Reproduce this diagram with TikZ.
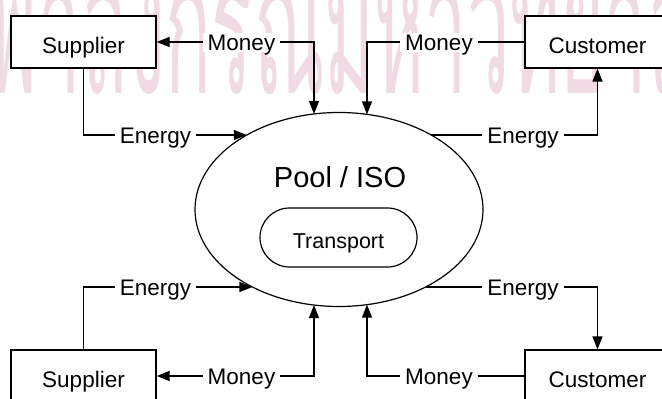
\documentclass[tikz,border=0pt]{standalone}
\usepackage{fontspec}
\setmainfont{Liberation Sans}
\newfontfamily\thaifont[Script=Thai]{Loma}
\usetikzlibrary{arrows.meta,shapes.geometric,shapes.misc}
\definecolor{wmark}{RGB}{240,219,229}
\tikzset{
  lw/.style={line width=1.2pt},
  tip/.style={-{Triangle[length=13pt,width=10pt]}},
  tips/.style={{Triangle[length=13pt,width=10pt]}-{Triangle[length=13pt,width=10pt]}},
  party/.style={draw, lw, fill=white, minimum width=145pt, minimum height=52pt,
    inner sep=0pt, text height=22pt, text depth=0pt,
    font=\fontsize{22.5}{27}\selectfont},
  flowlabel/.style={fill=white, inner xsep=5pt, inner ysep=1pt,
    text height=17pt, text depth=0pt, font=\fontsize{22.5}{27}\selectfont},
  wmtext/.style={inner sep=0pt, text=wmark, xscale=0.4, transform shape,
    font=\thaifont\fontsize{190}{190}\selectfont},
}
\begin{document}
\begin{tikzpicture}[x=1pt,y=-1pt]
\useasboundingbox (0,0) rectangle (662,399);
\clip (0,0) rectangle (662,399);
\fill[white] (0,0) rectangle (662,399);

% faint background watermark
\node[wmtext, anchor=base east] (wmA) at (252,93) {จุฬาลงกร};
\node[wmtext, anchor=base west] (wmB) at (254,93) {ณ์มหาวิทยาลัย};

% market parties
\node[party] (sup1) at (83.5,42) {Supplier};
\node[party] (cus1) at (597.5,42) {Customer};
\node[party] (sup2) at (83.5,376) {Supplier};
\node[party] (cus2) at (597.5,376) {Customer};

% pool and transport
\node[draw, lw, ellipse, minimum width=288pt, minimum height=194pt, inner sep=0pt]
  (pool) at (339,209.5) {};
\node[font=\fontsize{29}{33}\selectfont, inner sep=0pt, text height=20.8pt,
  text depth=0pt] (iso) at (340,177) {Pool / ISO};
\node[draw, lw, rounded rectangle, minimum width=157pt, minimum height=59pt,
  inner sep=0pt, text height=21.6pt, text depth=0pt,
  font=\fontsize{21.5}{25}\selectfont] (trans) at (338.5,237.5) {Transport};

% points on the pool border
\coordinate (pTL) at (314,114);
\coordinate (pTR) at (367,114.4);
\coordinate (pBL) at (314,305);
\coordinate (pBR) at (367,304.6);
\coordinate (eTL) at (246.8,135);
\coordinate (eTR) at (431.2,135);
\coordinate (eBL) at (252.4,287);
\coordinate (eBR) at (425.6,287);

% bends
\coordinate (kTL) at (314,42);
\coordinate (kTR) at (367,42);
\coordinate (kBL) at (314,376);
\coordinate (kBR) at (367,376);

% money flows
\draw[lw, tips] (sup1.east) -- (kTL) -- (pTL);
\draw[lw, tip] (cus1.west) -- (kTR) -- (pTR);
\draw[lw, tips] (sup2.east) -- (kBL) -- (pBL);
\draw[lw, tip] (cus2.west) -- (kBR) -- (pBR);

% energy flows
\draw[lw, tip] (sup1.south) |- (eTL);
\draw[lw, tip] (eTR) -| (cus1.south);
\draw[lw, tip] (sup2.north) |- (eBL);
\draw[lw, tip] (eBR) -| (cus2.north);

% flow labels
\node[flowlabel] (lm1) at (241.5,42) {Money};
\node[flowlabel] (lm2) at (439,42) {Money};
\node[flowlabel] (lm3) at (241.5,376) {Money};
\node[flowlabel] (lm4) at (439,376) {Money};
\node[flowlabel] (le1) at (155.5,135) {Energy};
\node[flowlabel] (le2) at (523,135) {Energy};
\node[flowlabel] (le3) at (155.5,287) {Energy};
\node[flowlabel] (le4) at (523,287) {Energy};
\end{tikzpicture}
\end{document}
